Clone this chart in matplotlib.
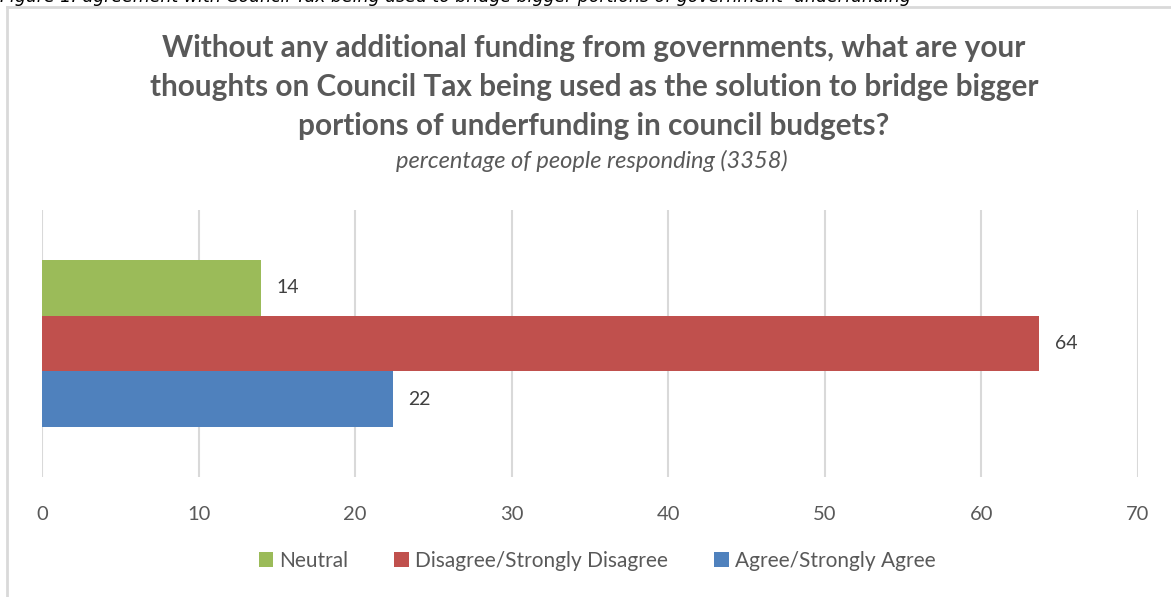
import matplotlib.pyplot as plt
from matplotlib.lines import Line2D
from matplotlib.patches import Patch

plt.rcParams['font.family'] = ['Lato', 'DejaVu Sans']

# survey responses, percentage of 3358 people
categories = ['Neutral', 'Disagree/Strongly Disagree', 'Agree/Strongly Agree']
percentages = [13.99, 63.67, 22.41]
colors = ['#9BBB59', '#C0504D', '#4F81BD']
x_ticks = [0, 10, 20, 30, 40, 50, 60, 70]

title = ('Without any additional funding from governments, what are your\n'
         'thoughts on Council Tax being used as the solution to bridge bigger\n'
         'portions of underfunding in council budgets?')
subtitle = 'percentage of people responding (3358)'
caption = ('Figure 1: agreement with Council Tax being used to bridge bigger '
           'portions of government  underfunding')

W, H = 1171, 597
fig = plt.figure(figsize=(W / 100, H / 100), dpi=100)
ax = fig.add_axes([42 / W, 1 - 477 / H, (1138 - 42) / W, (477 - 210) / H])

# Neutral on top, Agree at the bottom
ypos = [2, 1, 0]
ax.barh(ypos, percentages, height=1.0, color=colors, zorder=3)
for y, v in zip(ypos, percentages):
    ax.text(v + 1.0, y, f'{v:.0f}', va='center', ha='left',
            fontsize=14, color='#404040', zorder=4)

ax.set_xlim(0, 70)
ax.set_ylim(-1.405, 3.405)
ax.set_xticks(x_ticks)
ax.set_yticks([])
ax.grid(axis='x', color='#D9D9D9', linewidth=1.5, zorder=0)
for s in ax.spines.values():
    s.set_visible(False)
ax.tick_params(axis='x', length=0, pad=21, labelsize=14.5, labelcolor='#595959')

# chart frame (top and left edges)
frame = dict(color='#D9D9D9', linewidth=2, transform=fig.transFigure)
fig.add_artist(Line2D([7 / W, 1], [1 - 7 / H, 1 - 7 / H], **frame))
fig.add_artist(Line2D([7 / W, 7 / W], [1 - 7 / H, 0], **frame))

fig.text(0.0, 1 + 3 / H, caption, ha='left', va='center', fontsize=12.5,
         style='italic', color='#000000', family='DejaVu Sans')
fig.text(594 / W, 1 - 87 / H, title, ha='center', va='center',
         fontsize=21.4, fontweight='bold', color='#595959', linespacing=1.5)
fig.text(592 / W, 1 - 161 / H, subtitle, ha='center', va='center',
         fontsize=17, style='italic', color='#595959')

handles = [Patch(facecolor=c, edgecolor='none') for c in colors]
fig.legend(handles, categories, loc='center', bbox_to_anchor=(597 / W, 1 - 561 / H),
           ncol=3, frameon=False, fontsize=15, labelcolor='#595959',
           handlelength=0.7, handleheight=0.7, handletextpad=0.3,
           columnspacing=2.2)

fig.savefig('out.png', dpi=100)
